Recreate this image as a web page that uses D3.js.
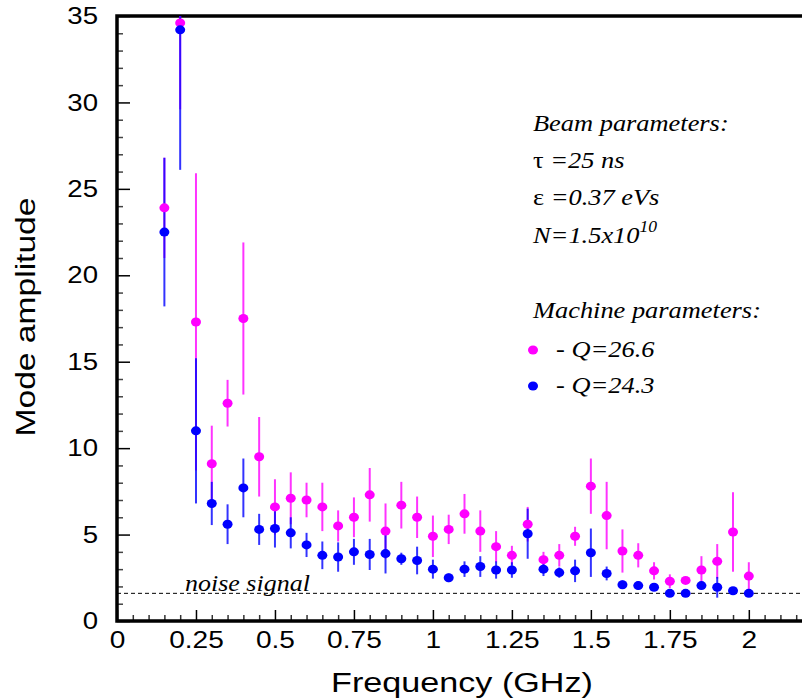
<!DOCTYPE html>
<html>
<head>
<meta charset="utf-8">
<script src="https://cdn.jsdelivr.net/npm/d3@7"></script>
<style>
body { margin: 0; background: #fff; }
svg { display: block; }
</style>
</head>
<body>
<svg id="chart" width="802" height="698"></svg>
<script>
// frequency bins (GHz)
const freq = [0.15, 0.2, 0.25, 0.3, 0.35, 0.4, 0.45, 0.5, 0.55, 0.6, 0.65, 0.7, 0.75, 0.8, 0.85, 0.9, 0.95, 1.0,
    1.05, 1.1, 1.15, 1.2, 1.25, 1.3, 1.35, 1.4, 1.45, 1.5, 1.55, 1.6, 1.65, 1.7, 1.75, 1.8, 1.85, 1.9, 1.95, 2.0];

// Q=26.6 (magenta)
const ampQ266 = [23.9, 34.6, 17.3, 9.1, 12.6, 17.5, 9.5, 6.6, 7.1, 7.0, 6.6, 5.5, 6.0, 7.3, 5.2, 6.7, 6.0, 4.9,
    5.3, 6.2, 5.2, 4.3, 3.8, 5.6, 3.55, 3.8, 4.9, 7.8, 6.1, 4.05, 3.8, 2.9, 2.3, 2.35, 2.95, 3.45, 5.15, 2.6];
const errQ266 = [2.9, 5.0, 8.6, 2.2, 1.35, 4.4, 2.3, 1.6, 1.5, 1.0, 1.4, 0.9, 1.15, 1.55, 1.6, 1.35, 1.2, 1.2,
    0.85, 1.15, 1.2, 0.9, 0.55, 1.0, 0.45, 0.65, 0.55, 1.6, 1.95, 1.25, 0.7, 0.5, 0.4, 0.1, 0.8, 1.0, 2.3, 0.8];

// Q=24.3 (blue)
const ampQ243 = [22.5, 34.2, 11.0, 6.8, 5.6, 7.7, 5.3, 5.35, 5.1, 4.4, 3.8, 3.7, 4.0, 3.85, 3.9, 3.6, 3.5, 3.0,
    2.5, 3.0, 3.15, 2.95, 2.95, 5.05, 3.0, 2.8, 2.9, 3.95, 2.75, 2.1, 2.05, 1.95, 1.6, 1.6, 2.05, 1.95, 1.75, 1.6];
const errQ243 = [4.3, 8.1, 4.2, 1.25, 1.15, 1.7, 0.9, 1.1, 0.9, 0.7, 0.8, 0.85, 0.75, 0.9, 1.15, 0.35, 0.8, 0.55,
    0.25, 0.45, 0.6, 0.5, 0.45, 1.45, 0.4, 0.3, 0.65, 1.4, 0.4, 0.25, 0.25, 0.22, 0.1, 0.1, 0.22, 0.6, 0.1, 0.1];

const noiseLevel = 1.6;

const xMajor = [0, 0.25, 0.5, 0.75, 1, 1.25, 1.5, 1.75, 2];
const yMajor = [0, 5, 10, 15, 20, 25, 30, 35];

const series = [
    {name: '- Q=26.6', color: '#ff00ff', amp: ampQ266, err: errQ266},
    {name: '- Q=24.3', color: '#0000ff', amp: ampQ243, err: errQ243}
];

const svg = d3.select('#chart');
const plotLeft = 117, plotRight = 812, plotTop = 16, plotBottom = 621;

const x = d3.scaleLinear().domain([0, 2.2]).range([plotLeft, plotRight]);
const y = d3.scaleLinear().domain([0, 35]).range([plotBottom, plotTop]);

const sans = 'Liberation Sans, Arial, Helvetica, sans-serif';
const serif = 'Liberation Serif, Times New Roman, serif';

// the original lettering is a bit wider than Liberation, stretch it horizontally
function stretch(sel, s) {
    sel.each(function() {
        const el = d3.select(this);
        const x0 = +el.attr('x') || 0, y0 = +el.attr('y') || 0;
        el.attr('x', 0).attr('y', 0)
            .attr('transform', 'translate(' + x0 + ',' + y0 + ') scale(' + s + ',1)');
    });
}

// minor ticks
const xMinor = d3.range(0, 2.2001, 0.05).map(v => +v.toFixed(2)).filter(v => xMajor.indexOf(v) < 0);
const yMinor = d3.range(0, 36, 1).filter(v => v % 5 !== 0);

svg.append('g')
    .attr('transform', 'translate(0,' + plotBottom + ')')
    .call(d3.axisBottom(x).tickValues(xMinor).tickSize(-6).tickFormat(''))
    .call(g => g.select('.domain').remove())
    .call(g => g.selectAll('line').attr('stroke', '#333').attr('stroke-width', 1.5));

svg.append('g')
    .attr('transform', 'translate(0,' + plotBottom + ')')
    .call(d3.axisBottom(x).tickValues(xMajor).tickSize(-11).tickPadding(10).tickFormat(d => String(d)))
    .call(g => g.select('.domain').remove())
    .call(g => g.selectAll('line').attr('stroke', '#000').attr('stroke-width', 1.5))
    .call(g => g.selectAll('text').attr('font-family', sans).attr('font-size', 24).attr('fill', '#000')
        .call(stretch, 1.17));

svg.append('g')
    .attr('transform', 'translate(' + plotLeft + ',0)')
    .call(d3.axisLeft(y).tickValues(yMinor).tickSize(-6).tickFormat(''))
    .call(g => g.select('.domain').remove())
    .call(g => g.selectAll('line').attr('stroke', '#444').attr('stroke-width', 1.5));

svg.append('g')
    .attr('transform', 'translate(' + plotLeft + ',0)')
    .call(d3.axisLeft(y).tickValues(yMajor).tickSize(-13).tickPadding(19).tickFormat(d => String(d)))
    .call(g => g.select('.domain').remove())
    .call(g => g.selectAll('line').attr('stroke', '#000').attr('stroke-width', 1.5))
    .call(g => g.selectAll('text').attr('font-family', sans).attr('font-size', 24).attr('fill', '#000')
        .call(stretch, 1.15));

// frame
svg.append('path')
    .attr('d', 'M' + plotRight + ',' + plotTop + 'H' + plotLeft + 'V' + plotBottom + 'H' + plotRight)
    .attr('fill', 'none')
    .attr('stroke', '#000')
    .attr('stroke-width', 3.5);

// noise level
svg.append('line')
    .attr('x1', plotLeft).attr('x2', plotRight)
    .attr('y1', y(noiseLevel)).attr('y2', y(noiseLevel))
    .attr('stroke', '#000')
    .attr('stroke-width', 1)
    .attr('stroke-dasharray', '4,3');

svg.append('text')
    .attr('x', 185)
    .attr('y', y(noiseLevel) - 2)
    .attr('font-family', serif)
    .attr('font-style', 'italic')
    .attr('font-size', 23)
    .text('noise signal')
    .call(stretch, 1.13);

// error bars, then markers
series.forEach(s => {
    svg.append('g').selectAll('line')
        .data(freq.map((f, i) => ({f: f, v: s.amp[i], e: s.err[i]})))
        .enter().append('line')
        .attr('x1', d => x(d.f)).attr('x2', d => x(d.f))
        .attr('y1', d => Math.max(y(d.v + d.e), plotTop))
        .attr('y2', d => y(d.v - d.e))
        .attr('stroke', s.color)
        .attr('stroke-width', 2)
        .attr('stroke-opacity', 0.8);
});

series.forEach(s => {
    svg.append('g').selectAll('ellipse')
        .data(freq.map((f, i) => ({f: f, v: s.amp[i]})))
        .enter().append('ellipse')
        .attr('cx', d => x(d.f))
        .attr('cy', d => y(d.v))
        .attr('rx', 5)
        .attr('ry', 4.5)
        .attr('fill', s.color);
});

// axis titles
svg.append('text')
    .attr('x', 462).attr('y', 692)
    .attr('text-anchor', 'middle')
    .attr('font-family', sans)
    .attr('font-size', 28)
    .text('Frequency (GHz)')
    .call(stretch, 1.22);

svg.append('text')
    .attr('transform', 'translate(35,317)rotate(-90)scale(1.2,1)')
    .attr('text-anchor', 'middle')
    .attr('font-family', sans)
    .attr('font-size', 28)
    .text('Mode amplitude');

// annotation block
const note = svg.append('g')
    .attr('font-family', serif)
    .attr('font-style', 'italic')
    .attr('font-size', 24)
    .attr('fill', '#000');

function noteLine(xx, yy) {
    return note.append('text').attr('transform', 'translate(' + xx + ',' + yy + ') scale(1.1,1)');
}

noteLine(533, 131).text('Beam parameters:');

let t = noteLine(533, 168);
t.append('tspan').attr('font-style', 'normal').text('\u03c4 ');
t.append('tspan').text('=25 ns');

t = noteLine(533, 205);
t.append('tspan').attr('font-style', 'normal').text('\u03b5 ');
t.append('tspan').text('=0.37 eVs');

t = noteLine(533, 243);
t.append('tspan').text('N=1.5x10');
t.append('tspan').attr('font-size', 16).attr('dy', -11).text('10');

noteLine(533, 318).text('Machine parameters:');

series.forEach((s, i) => {
    const yy = 357 + i * 36;
    svg.append('ellipse')
        .attr('cx', 533).attr('cy', yy - 7)
        .attr('rx', 5).attr('ry', 4.5)
        .attr('fill', s.color);
    noteLine(556, yy).text(s.name);
});
</script>
</body>
</html>
